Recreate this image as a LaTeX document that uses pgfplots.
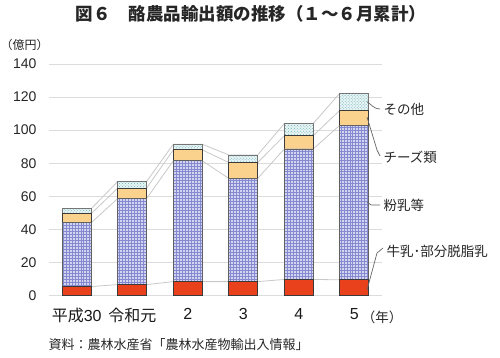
\documentclass[border=0pt]{standalone}
\usepackage{pgfplots}
\pgfplotsset{compat=1.18}
\usepackage{pgfplotstable}
\usetikzlibrary{patterns}
\usepackage{fontspec}
\setmainfont{Liberation Sans}
\newfontfamily\jp{Noto Sans CJK JP}
\definecolor{redbar}{HTML}{E8411C}
\definecolor{bluefill}{HTML}{D2D4F0}
\definecolor{bluepat}{HTML}{858AD0}
\definecolor{orangebar}{HTML}{FAD28E}
\definecolor{otherfill}{HTML}{E8F5F5}
\definecolor{otherpat}{HTML}{6CB0B8}
\definecolor{edge}{HTML}{3A3A3A}
\definecolor{gridc}{HTML}{DCDCDC}
\definecolor{serc}{HTML}{C8C8C8}
% cumulative tops of each segment
\pgfplotstableread{
x red blue cheese other
0 5.4 44.0 49.5 52.5
1 6.6 58.7 65.0 69.0
2 8.4 81.5 88.1 91.5
3 8.4 70.8 80.4 85.0
4 9.7 88.6 96.6 104.0
5 9.5 103.0 112.0 122.3
}\datatable
\begin{document}
\begin{tikzpicture}[x=1bp,y=1bp]
\path[use as bounding box] (0,0) rectangle (500,357);
\begin{axis}[
  at={(49bp,61.5bp)}, anchor=south west,
  scale only axis, width=333bp, height=231.5bp,
  xmin=-0.5, xmax=5.5, ymin=0, ymax=140,
  ytick={0,20,...,140},
  xtick={0,...,5},
  xticklabels={{\jp 平成}30,{\jp 令和元},2,3,4,5},
  extra x ticks={-0.5,0.5,1.5,2.5,3.5,4.5,5.5},
  extra x tick labels={},
  extra x tick style={major tick length=4bp, tick style={draw=gridc, line width=0.7bp}, tick pos=bottom, xtick align=outside, grid=none},
  major x tick style={draw=none},
  ymajorgrids, grid style={draw=gridc, line width=0.7bp},
  axis x line*=bottom, axis y line*=left,
  x axis line style={draw=gridc, line width=0.8bp, -},
  y axis line style={draw=none},
  ytick style={draw=none},
  yticklabel style={font=\fontsize{14bp}{16bp}\selectfont, text=black!85, anchor=east, xshift=-9bp},
  xticklabel style={font=\fontsize{16bp}{18bp}\selectfont, text=black!90, yshift=-9bp},
  /pgf/number format/assume math mode=true,
  bar width=0.52,
  clip=false,
]
% series lines
\addplot[serc, line width=0.8bp] coordinates {(0.26,5.4)(0.74,6.6)(1.26,6.6)(1.74,8.4)(2.26,8.4)(2.74,8.4)(3.26,8.4)(3.74,9.7)(4.26,9.7)(4.74,9.5)};
\addplot[serc, line width=0.8bp] coordinates {(0.26,44.0)(0.74,58.7)(1.26,58.7)(1.74,81.5)(2.26,81.5)(2.74,70.8)(3.26,70.8)(3.74,88.6)(4.26,88.6)(4.74,103.0)};
\addplot[serc, line width=0.8bp] coordinates {(0.26,49.5)(0.74,65.0)(1.26,65.0)(1.74,88.1)(2.26,88.1)(2.74,80.4)(3.26,80.4)(3.74,96.6)(4.26,96.6)(4.74,112.0)};
\addplot[serc, line width=0.8bp] coordinates {(0.26,52.5)(0.74,69.0)(1.26,69.0)(1.74,91.5)(2.26,91.5)(2.74,85.0)(3.26,85.0)(3.74,104.0)(4.26,104.0)(4.74,122.3)};
% bars (drawn from tallest to shortest, overlapping)
\addplot[ybar, bar shift=0pt, fill=otherfill, draw=edge!70, line width=0.7bp, postaction={pattern=crosshatch dots, pattern color=otherpat}] table[x=x,y=other]{\datatable};
\addplot[ybar, bar shift=0pt, fill=orangebar, draw=edge, line width=0.7bp] table[x=x,y=cheese]{\datatable};
\addplot[ybar, bar shift=0pt, fill=bluefill, draw=edge!80, line width=0.7bp, postaction={pattern=grid, pattern color=bluepat}] table[x=x,y=blue]{\datatable};
\addplot[ybar, bar shift=0pt, fill=redbar, draw=edge, line width=0.7bp] table[x=x,y=red]{\datatable};
\end{axis}
% title and texts
\node[font=\jp\fontsize{17.5bp}{20bp}\selectfont\bfseries, text=black!85] at (251,343) {図６\hspace{1em}酪農品輸出額の推移（１～６月累計）};
\node[font=\jp\fontsize{12bp}{14bp}\selectfont, text=black!85, inner sep=0pt, anchor=west] at (0.5,312) {（億円）};
\node[font=\jp\fontsize{13.5bp}{15bp}\selectfont, text=black!85] at (382,40) {（年）};
\node[font=\jp\fontsize{13bp}{15bp}\selectfont, text=black!85, anchor=west] at (45,12) {資料：農林水産省「農林水産物輸出入情報」};
% right-side labels with leader lines
\draw[black!60, line width=0.7bp] (367,255.3) .. controls (372,252) and (374,248) .. (380,248);
\draw[black!60, line width=0.7bp] (367,240) -- (377,207) -- (380,201);
\draw[black!60, line width=0.7bp] (367,155) -- (371,152) -- (380,152);
\draw[black!60, line width=0.7bp] (367,67) -- (377,104) -- (383,109);
\node[font=\jp\fontsize{13.5bp}{15bp}\selectfont, text=black!85, anchor=west] at (380,248) {その他};
\node[font=\jp\fontsize{13.5bp}{15bp}\selectfont, text=black!85, anchor=west] at (380,200) {チーズ類};
\node[font=\jp\fontsize{13.5bp}{15bp}\selectfont, text=black!85, anchor=west] at (380,152) {粉乳等};
\node[font=\jp\fontsize{13.5bp}{15bp}\selectfont, text=black!85, anchor=west] at (383,106) {牛乳･部分脱脂乳};
\end{tikzpicture}
\end{document}
